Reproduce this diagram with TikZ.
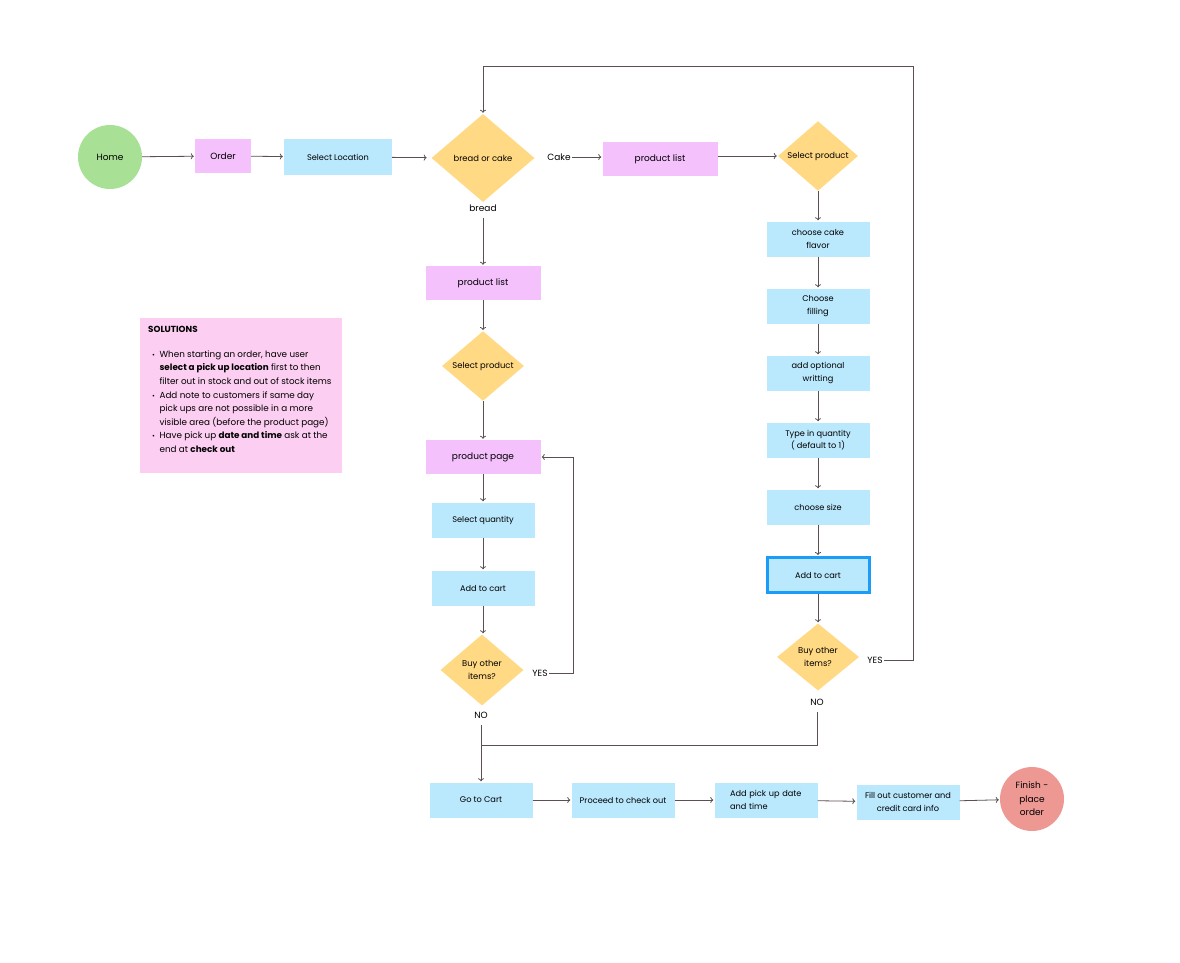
\documentclass[tikz,border=0pt]{standalone}
\usepackage{fontspec}
\setmainfont{Poppins}
\usetikzlibrary{shapes.geometric,arrows.meta,positioning}
\definecolor{homegreen}{HTML}{A8E196}
\definecolor{pagepink}{HTML}{F4C1FC}
\definecolor{stepblue}{HTML}{BAE8FD}
\definecolor{askyellow}{HTML}{FFD983}
\definecolor{endred}{HTML}{EE9894}
\definecolor{notepink}{HTML}{FCCEF2}
\definecolor{cartedge}{HTML}{1C9CF6}
\definecolor{linegray}{HTML}{5A5050}
\tikzset{
  txt/.style={font=\fontsize{8.2}{12.3}\selectfont, inner sep=1pt, align=center},
  stepbox/.style={txt, rectangle, fill=stepblue, minimum width=103pt, minimum height=35pt},
  pagebox/.style={txt, rectangle, fill=pagepink, minimum height=34pt, font=\fontsize{9}{12}\selectfont},
  askbox/.style={txt, diamond, fill=askyellow, inner sep=0pt, font=\fontsize{8.4}{12.3}\selectfont},
  endpt/.style={txt, circle, minimum size=64pt, inner sep=0pt, font=\fontsize{9}{13.5}\selectfont},
  lbl/.style={font=\fontsize{9}{11}\selectfont, inner sep=1pt},
  flow/.style={draw=linegray, line width=0.8pt, -{To[length=3pt,width=6pt]}, shorten >=1pt},
  plain/.style={draw=linegray, line width=0.8pt}
}
\begin{document}
\begin{tikzpicture}[x=1pt,y=-1pt]
\useasboundingbox (0,0) rectangle (1180,962);

% top row
\node[endpt, fill=homegreen] (home) at (110,157) {Home};
\node[pagebox, minimum width=56pt] (order) at (223,156) {Order};
\node[stepbox, minimum width=108pt, minimum height=36pt] (loc) at (338,157) {Select Location};
\node[askbox, minimum width=103pt, minimum height=88pt] (bc) at (483,158) {bread or cake};
\node[lbl] (cake) at (559,157) {Cake};
\node[pagebox, minimum width=115pt] (plcake) at (660,159) {product list};
\node[askbox, minimum width=80pt, minimum height=68pt] (spcake) at (818,156) {Select product};

% cake branch
\node[stepbox] (flavor) at (818,239) {choose cake\\flavor};
\node[stepbox] (filling) at (818,306) {Choose\\filling};
\node[stepbox] (writing) at (818,373) {add optional\\writting};
\node[stepbox] (qtyc) at (818,440) {Type in quantity\\( default to 1)};
\node[stepbox] (size) at (818,507) {choose size};
\node[stepbox, draw=cartedge, line width=3pt, minimum width=102pt] (cartc) at (818,575) {Add to cart};
\node[askbox, minimum width=82pt, minimum height=67pt] (buyc) at (818,657) {Buy other\\items?};
\node[lbl] (yesc) at (875,660) {YES};
\node[lbl] (noc) at (817,702) {NO};

% bread branch
\node[lbl] (bread) at (483,208) {bread};
\node[pagebox, minimum width=115pt] (plbread) at (483,283) {product list};
\node[askbox, minimum width=82pt, minimum height=68pt] (spbread) at (483,366) {Select product};
\node[pagebox, minimum width=115pt] (ppage) at (483,457) {product page};
\node[stepbox] (qtyb) at (483,520) {Select quantity};
\node[stepbox] (cartb) at (483,588) {Add to cart};
\node[askbox, minimum width=83pt, minimum height=71pt] (buyb) at (482,670) {Buy other\\items?};
\node[lbl] (yesb) at (540,673) {YES};
\node[lbl] (nob) at (481,715) {NO};

% check out row
\node[stepbox] (gocart) at (481,800) {Go to Cart};
\node[stepbox] (checkout) at (623,800) {Proceed to check out};
\node[stepbox, align=left, text width=72pt] (date) at (766,800) {Add pick up date\\and time};
\node[stepbox] (info) at (908,802) {Fill out customer and\\credit card info};
\node[endpt, fill=endred] (finish) at (1032,799) {Finish -\\place\\order};

\coordinate (loop) at (913,66);
\coordinate (merge) at (481,745);

\draw[flow] (home) -- (order);
\draw[flow] (order) -- (loc);
\draw[flow, shorten >=5pt] (loc) -- (bc);
\draw[flow] (cake.east) -- (cake.east -| plcake.west);
\draw[flow] (plcake.east |- spcake) -- (spcake);
\draw[flow] (spcake) -- (flavor);
\draw[flow] (flavor) -- (filling);
\draw[flow] (filling) -- (writing);
\draw[flow] (writing) -- (qtyc);
\draw[flow] (qtyc) -- (size);
\draw[flow] (size) -- (cartc);
\draw[flow] (cartc) -- (buyc);
\draw[flow] (yesc.east) -| (loop) -| (bc.north);
\draw[plain] (noc.south) ++(0,6) |- (merge);

\draw[flow] (bread.south) ++(0,5) -- (plbread);
\draw[flow] (plbread) -- (spbread);
\draw[flow] (spbread) -- (ppage);
\draw[flow] (ppage) -- (qtyb);
\draw[flow] (qtyb) -- (cartb);
\draw[flow] (cartb.south) -- (cartb.south |- buyb.north);
\draw[flow] (yesb.east) -- ++(25,0) |- (ppage.east);
\draw[plain] (nob.south) ++(0,6) -- (merge);
\draw[flow] (merge) -- (gocart);

\draw[flow] (gocart) -- (checkout);
\draw[flow] (checkout) -- (date);
\draw[flow] (date) -- (info);
\draw[flow] (info) -- (finish);

% notes
\node[rectangle, fill=notepink, minimum width=202pt, minimum height=155pt, anchor=north west] (notes) at (140,318) {};
\node[anchor=north west, inner sep=0pt, font=\fontsize{8.8}{13.6}\selectfont] (notetext) at (148,323) {%
\begin{tabular}{@{}l@{\hspace{4.5pt}}l@{}}
\multicolumn{2}{@{}l}{\textbf{SOLUTIONS}}\\[11pt]
\hspace*{4pt}{\scriptsize\textbullet} & When starting an order, have user\\
 & \textbf{select a pick up location} first to then\\
 & filter out in stock and out of stock items\\
\hspace*{4pt}{\scriptsize\textbullet} & Add note to customers if same day\\
 & pick ups are not possible in a more\\
 & visible area (before the product page)\\
\hspace*{4pt}{\scriptsize\textbullet} & Have pick up \textbf{date and time} ask at the\\
 & end at \textbf{check out}
\end{tabular}};
\end{tikzpicture}
\end{document}
